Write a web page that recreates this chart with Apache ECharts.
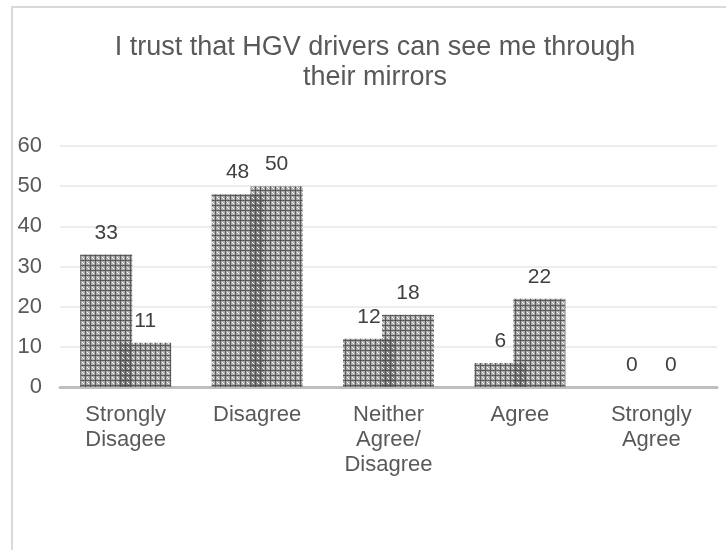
<!DOCTYPE html>
<html>
<head>
<meta charset="utf-8">
<script src="https://cdn.jsdelivr.net/npm/echarts@6/dist/echarts.min.js"></script>
<style>
  html, body { margin: 0; padding: 0; background: #fff; }
  #chart { width: 726px; height: 550px; }
</style>
</head>
<body>
<div id="chart"></div>
<script>
// categories and the two series
var categories = ['Strongly\nDisagee', 'Disagree', 'Neither\nAgree/\nDisagree', 'Agree', 'Strongly\nAgree']
var seriesA = [33, 48, 12, 6, 0]
var seriesB = [11, 50, 18, 22, 0]
var yTicks = { min: 0, max: 60, interval: 10 }

// excel-like pattern fill, transparent gaps so overlaps get darker
function makePattern () {
  var c = document.createElement('canvas')
  c.width = 5
  c.height = 5
  var ctx = c.getContext('2d')
  ctx.fillStyle = 'rgba(100,100,100,0.55)'
  ctx.fillRect(0, 0, 5, 5)
  ctx.clearRect(2, 2, 1, 1)
  ctx.clearRect(3, 3, 1, 1)
  ctx.fillStyle = 'rgba(80,80,80,0.85)'
  ctx.fillRect(0, 0, 5, 1)
  ctx.fillRect(0, 0, 1, 5)
  return c
}
var pattern = makePattern()

var myChart = echarts.init(document.getElementById('chart'))
var labelStyle = {
  show: true,
  position: 'top',
  distance: 11,
  color: '#404040',
  fontSize: 21,
  fontFamily: 'Liberation Sans'
}
var option = {
  animation: false,
  textStyle: { fontFamily: 'Liberation Sans' },
  title: {
    text: 'I trust that HGV drivers can see me through\ntheir mirrors',
    left: 370,
    top: 28,
    textAlign: 'center',
    textStyle: {
      color: '#595959',
      fontSize: 27,
      fontWeight: 'normal',
      lineHeight: 30,
      fontFamily: 'Liberation Sans'
    }
  },
  graphic: [{
    type: 'rect',
    shape: { x: 12, y: 7, width: 800, height: 800 },
    style: { fill: 'none', stroke: '#d9d9d9', lineWidth: 2 },
    silent: true
  }],
  grid: {
    top: 146,
    bottom: 163,
    left: 60,
    right: 9
  },
  xAxis: {
    type: 'category',
    data: categories,
    axisTick: { show: false },
    axisLine: {
      lineStyle: { color: '#bfbfbf', width: 3 }
    },
    axisLabel: {
      color: '#595959',
      fontSize: 22,
      lineHeight: 25,
      margin: 15,
      interval: 0
    }
  },
  yAxis: {
    type: 'value',
    min: yTicks.min,
    max: yTicks.max,
    interval: yTicks.interval,
    axisLine: { show: false },
    axisTick: { show: false },
    axisLabel: {
      color: '#595959',
      fontSize: 22,
      margin: 18
    },
    splitLine: {
      lineStyle: { color: '#ededed', width: 2 }
    }
  },
  series: [{
    type: 'bar',
    data: seriesA,
    barWidth: 52,
    barGap: '-25%',
    itemStyle: { color: { image: pattern, repeat: 'repeat' } },
    label: labelStyle
  }, {
    type: 'bar',
    data: seriesB,
    barWidth: 52,
    barGap: '-25%',
    itemStyle: { color: { image: pattern, repeat: 'repeat' } },
    label: labelStyle
  }]
}
myChart.setOption(option)
</script>
</body>
</html>
